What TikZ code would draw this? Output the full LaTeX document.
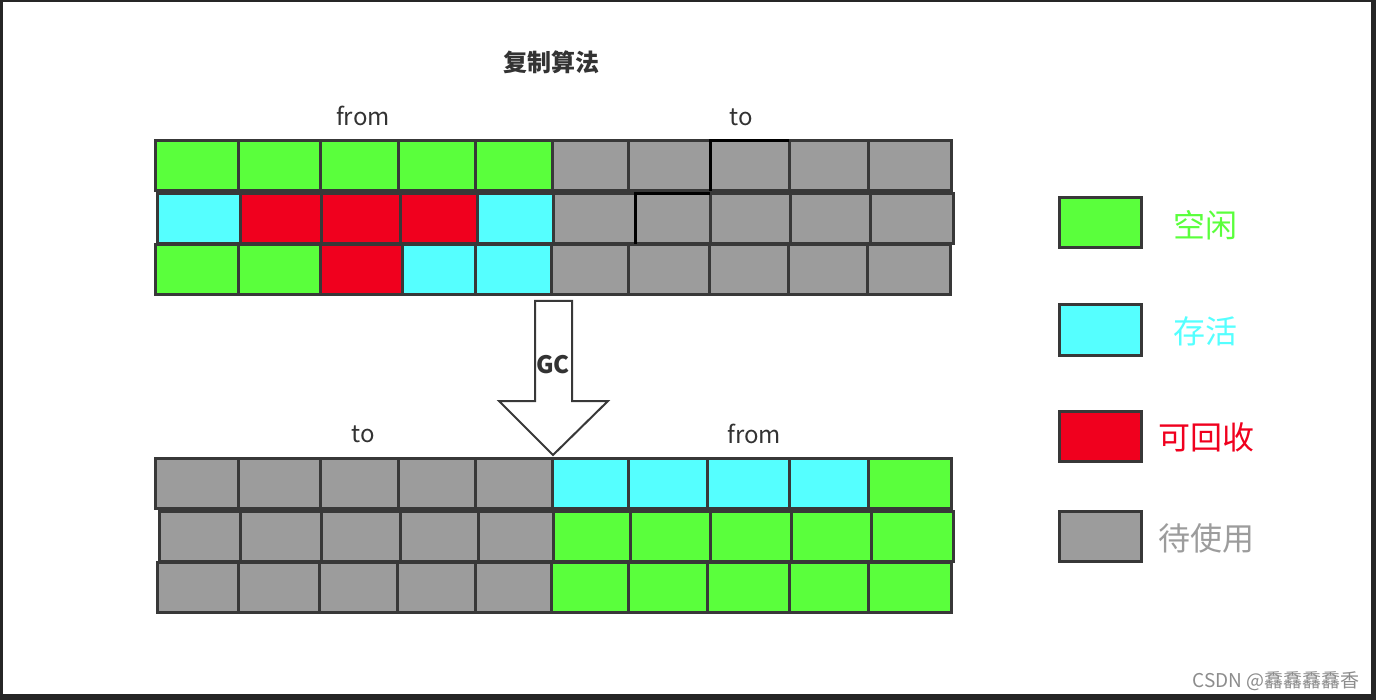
\documentclass[tikz,border=0pt]{standalone}
\usepackage{fontspec}
\setmainfont{Noto Sans CJK SC}
\newfontfamily\cjk{Noto Sans CJK SC}
\definecolor{cG}{RGB}{90,255,60}
\definecolor{cC}{RGB}{85,255,255}
\definecolor{cR}{RGB}{240,0,30}
\definecolor{cY}{RGB}{156,156,156}
\definecolor{ink}{RGB}{56,56,56}
\definecolor{txt}{RGB}{51,51,51}
\tikzset{
  cellbox/.style={draw=ink, line width=1.5pt},
  lbl/.style={text=txt, font=\cjk\fontsize{12pt}{14pt}\selectfont, inner sep=0pt},
  legtxt/.style={font=\cjk\fontsize{16pt}{18pt}\selectfont, inner sep=0pt},
}
\newcommand{\cellrow}[3]{%
  \foreach \xa/\xb/\cc in {#3} {\draw[cellbox, fill=\cc] (\xa,#1) rectangle (\xb,#2);}}
\begin{document}
\begin{tikzpicture}[x=0.5pt,y=-0.5pt]
\useasboundingbox (0,0) rectangle (1376,700);
% frame
\fill[black!85] (0,0) rectangle (1376,700);
\fill[white] (3,2) rectangle (1371,694);
% title
\node[text=txt, font=\cjk\bfseries\fontsize{12pt}{14pt}\selectfont, inner sep=0pt] (title) at (551,62) {复制算法};
\node[lbl] (fromA) at (363,116) {from};
\node[lbl] (toA) at (741,117) {to};
\node[lbl] (toB) at (363,434) {to};
\node[lbl] (fromB) at (754,434) {from};
% top rows
\cellrow{141}{191}{155/238/cG,238/320/cG,320/398/cG,398/475/cG,475/552/cG,552/628/cY,628/710/cY,710/789/cY,789/868/cY,868/951/cY}
\cellrow{194}{244}{157/240/cC,240/321/cR,321/400/cR,400/477/cR,477/553/cC,553/635/cY,635/710/cY,710/790/cY,790/870/cY,870/953/cY}
\cellrow{245}{295}{155/238/cG,238/320/cG,320/402/cR,402/475/cC,475/551/cC,551/628/cY,628/709/cY,709/788/cY,788/867/cY,867/950/cY}
\draw[black, line width=1.5pt] (710,191) -- (710,141) -- (789,141);
\draw[black, line width=1.5pt] (635,244) -- (635,194) -- (710,194);
% bottom rows
\cellrow{458}{508}{155/238/cY,238/320/cY,320/398/cY,398/475/cY,475/552/cY,552/628/cC,628/707/cC,707/789/cC,789/868/cC,868/951/cG}
\cellrow{511}{561}{159/240/cY,240/321/cY,321/400/cY,400/478/cY,478/553/cY,553/630/cG,630/710/cG,710/791/cG,791/871/cG,871/953/cG}
\cellrow{562}{612}{157/238/cY,238/319/cY,319/397/cY,397/475/cY,475/551/cY,551/628/cG,628/707/cG,707/789/cG,789/868/cG,868/951/cG}
% GC arrow
\draw[draw=ink, fill=white, line width=1pt, line join=miter] (535,301) -- (572,301) -- (572,401) -- (608,401) -- (553,455) -- (499,401) -- (535,401) -- cycle;
\node[text=txt, font=\cjk\bfseries\fontsize{12pt}{14pt}\selectfont, inner sep=0pt] (gc) at (553,365) {GC};
% legend
\draw[cellbox, fill=cG] (1059,198) rectangle (1141,248);
\draw[cellbox, fill=cC] (1059,305) rectangle (1141,355);
\draw[cellbox, fill=cR] (1059,411) rectangle (1141,461);
\draw[cellbox, fill=cY] (1059,511) rectangle (1141,561);
\node[legtxt, text=cG] (l1) at (1205,225) {空闲};
\node[legtxt, text=cC] (l2) at (1205,331) {存活};
\node[legtxt, text=cR] (l3) at (1206,437) {可回收};
\node[legtxt, text=cY] (l4) at (1206,538) {待使用};
% watermark
\node[anchor=east, text=black!45, font=\cjk\fontsize{9.5pt}{11pt}\selectfont, inner sep=0pt] (wm) at (1360,681) {CSDN @馫馫馫馫香};
\end{tikzpicture}
\end{document}
